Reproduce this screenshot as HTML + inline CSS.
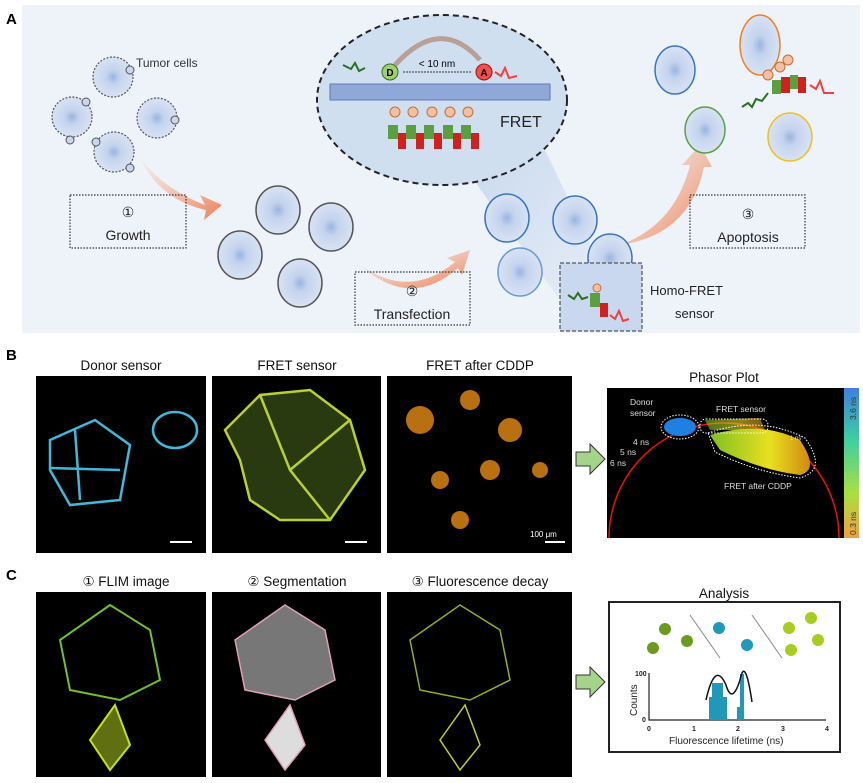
<!DOCTYPE html>
<html><head><meta charset="utf-8"><style>
body{margin:0;background:#fff;}
svg{display:block;font-family:"Liberation Sans",sans-serif;}
</style></head><body>
<svg width="863" height="783" viewBox="0 0 863 783" xmlns="http://www.w3.org/2000/svg">
<defs>
<radialGradient id="cell" cx="0.5" cy="0.5" r="0.5"><stop offset="0" stop-color="#9bb4df"/><stop offset="0.35" stop-color="#c4d3ee"/><stop offset="1" stop-color="#d8e2f3"/></radialGradient>
<linearGradient id="arr" x1="0" y1="0" x2="1" y2="1"><stop offset="0" stop-color="#f7d8c8" stop-opacity="0.3"/><stop offset="1" stop-color="#ec7a4e"/></linearGradient>
<linearGradient id="cbar" x1="0" y1="0" x2="0" y2="1"><stop offset="0" stop-color="#3f7fe0"/><stop offset="0.35" stop-color="#3ed0a0"/><stop offset="0.7" stop-color="#a8e040"/><stop offset="1" stop-color="#f0a040"/></linearGradient>
<linearGradient id="fret" x1="0" y1="0" x2="1" y2="0"><stop offset="0" stop-color="#80c020"/><stop offset="0.6" stop-color="#e8e020"/><stop offset="1" stop-color="#d08a10"/></linearGradient>
<linearGradient id="beam" x1="0" y1="0" x2="1" y2="1"><stop offset="0" stop-color="#c8d8ee"/><stop offset="1" stop-color="#d5e2f2" stop-opacity="0.4"/></linearGradient>
</defs>
<text x="6" y="24" font-size="15" font-weight="bold">A</text>
<rect x="22" y="5" width="838" height="328" fill="#eef3fa"/>
<polygon points="470,175 545,150 600,265 560,300" fill="url(#beam)"/>
<g fill="url(#cell)" stroke="#555" stroke-width="1.2" stroke-dasharray="2 1.5">
<circle cx="113" cy="77" r="20"/><circle cx="72" cy="117" r="20"/><circle cx="157" cy="118" r="20"/><circle cx="114" cy="152" r="20"/>
</g>
<g fill="#c8d6ee" stroke="#555"><circle cx="130" cy="70" r="4"/><circle cx="86" cy="102" r="4"/><circle cx="175" cy="120" r="4"/><circle cx="96" cy="142" r="4"/><circle cx="70" cy="140" r="4"/><circle cx="130" cy="168" r="4"/></g>
<text x="136" y="67" font-size="12" fill="#333">Tumor cells</text>
<path d="M140,158 Q165,190 205,205 L200,195 L222,205 L204,220 L206,210 Q160,200 140,158Z" fill="url(#arr)"/>
<path d="M360,265 Q410,300 455,262 L447,258 L470,250 L462,275 L458,268 Q410,310 360,265Z" fill="url(#arr)"/>
<path d="M620,245 Q675,225 690,165 L682,165 L700,145 L712,167 L704,167 Q690,235 620,245Z" fill="url(#arr)"/>
<g fill="url(#cell)" stroke="#555" stroke-width="1.5">
<ellipse cx="278" cy="210" rx="22" ry="24"/><ellipse cx="331" cy="227" rx="22" ry="24"/><ellipse cx="240" cy="255" rx="22" ry="24"/><ellipse cx="300" cy="283" rx="22" ry="24"/>
</g>
<g fill="url(#cell)" stroke="#3a74c0" stroke-width="1.5">
<ellipse cx="507" cy="218" rx="22" ry="24"/><ellipse cx="575" cy="220" rx="22" ry="24"/><ellipse cx="520" cy="272" rx="22" ry="24" stroke="#6a9ad0"/><ellipse cx="610" cy="258" rx="22" ry="24"/>
<ellipse cx="675" cy="70" rx="20" ry="24"/>
<ellipse cx="705" cy="130" rx="20" ry="23" stroke="#5aa040"/>
<ellipse cx="760" cy="45" rx="20" ry="30" stroke="#f08020"/>
<ellipse cx="790" cy="137" rx="22" ry="24" stroke="#f0c020"/>
</g>
<g fill="none" stroke="#333" stroke-width="1.2" stroke-dasharray="1.5 1.5">
<rect x="70" y="195" width="116" height="53"/><rect x="355" y="272" width="115" height="53"/><rect x="690" y="195" width="115" height="53"/>
</g>
<rect x="560" y="263" width="82" height="68" fill="#c9d8ee" stroke="#333" stroke-dasharray="4 2"/>
<g font-size="14" fill="#222" text-anchor="middle">
<text x="128" y="217">①</text><text x="128" y="240">Growth</text>
<text x="412" y="296">②</text><text x="412" y="319">Transfection</text>
<text x="748" y="219">③</text><text x="748" y="242">Apoptosis</text>
</g>
<text x="650" y="295" font-size="13" fill="#222">Homo-FRET</text>
<text x="675" y="318" font-size="13" fill="#222">sensor</text>
<circle cx="597" cy="288" r="4" fill="#f0c0a0" stroke="#c07040"/>
<rect x="590" y="293" width="10" height="14" fill="#5aa040"/><rect x="600" y="303" width="8" height="14" fill="#d02020"/>
<path d="M568,295 l6,4 l4,-6 l4,6 l6,-2" fill="none" stroke="#2a7020" stroke-width="2"/>
<path d="M610,315 l5,4 l4,-8 l4,10 l6,-2" fill="none" stroke="#f04040" stroke-width="2"/>
<ellipse cx="442" cy="100" rx="125" ry="85" fill="#d0dff0" stroke="#222" stroke-width="2" stroke-dasharray="6 4"/>
<rect x="330" y="84" width="220" height="16" fill="#8fa8d8" stroke="#5b78b8"/>
<path d="M395,65 Q440,15 480,60" fill="none" stroke="#b8a098" stroke-width="5"/>
<circle cx="390" cy="72" r="8" fill="#a0d070" stroke="#2a7020"/><text x="390" y="76" font-size="10" text-anchor="middle" font-weight="bold">D</text>
<circle cx="484" cy="72" r="8" fill="#f05050" stroke="#a01010"/><text x="484" y="76" font-size="10" text-anchor="middle" font-weight="bold">A</text>
<line x1="403" y1="72" x2="471" y2="72" stroke="#333" stroke-dasharray="2 1"/>
<text x="437" y="67" font-size="10" text-anchor="middle">&lt; 10 nm</text>
<path d="M343,65 l8,4 l4,-6 l4,8 l6,-3" fill="none" stroke="#2a7020" stroke-width="2"/>
<path d="M495,72 l6,4 l4,-8 l4,10 l8,-2" fill="none" stroke="#f04040" stroke-width="2"/>
<text x="500" y="127" font-size="16" fill="#222">FRET</text>
<g fill="#f0c0a0" stroke="#c07040"><circle cx="395" cy="112" r="5"/><circle cx="413" cy="112" r="5"/><circle cx="432" cy="112" r="5"/><circle cx="450" cy="112" r="5"/><circle cx="468" cy="112" r="5"/></g>
<g fill="#5aa040"><rect x="388" y="125" width="10" height="14"/><rect x="406" y="125" width="10" height="14"/><rect x="424" y="125" width="10" height="14"/><rect x="443" y="125" width="10" height="14"/><rect x="461" y="125" width="10" height="14"/></g>
<g fill="#d02020"><rect x="398" y="133" width="8" height="16"/><rect x="416" y="133" width="8" height="16"/><rect x="434" y="133" width="8" height="16"/><rect x="453" y="133" width="8" height="16"/><rect x="471" y="133" width="8" height="16"/></g>
<g fill="#f0c0a0" stroke="#c07040"><circle cx="768" cy="75" r="5"/><circle cx="780" cy="67" r="5"/><circle cx="788" cy="60" r="5"/></g>
<rect x="772" y="80" width="9" height="14" fill="#5aa040"/><rect x="781" y="77" width="9" height="16" fill="#d02020"/><rect x="790" y="75" width="8" height="14" fill="#5aa040"/><rect x="798" y="77" width="8" height="16" fill="#d02020"/>
<path d="M742,107 l6,-4 l4,4 l4,-8 l6,2 l6,-8" fill="none" stroke="#2a7020" stroke-width="2"/>
<path d="M810,85 l6,4 l4,-8 l4,12 l10,0" fill="none" stroke="#f04040" stroke-width="2"/>
<text x="6" y="360" font-size="15" font-weight="bold">B</text>
<g font-size="13.5" fill="#111" text-anchor="middle">
<text x="121" y="370">Donor sensor</text><text x="297" y="370">FRET sensor</text><text x="480" y="370">FRET after CDDP</text>
<text x="724" y="382">Phasor Plot</text>
<text x="126" y="586">① FLIM image</text><text x="297" y="586">② Segmentation</text><text x="480" y="586">③ Fluorescence decay</text>
<text x="724" y="598">Analysis</text>
</g>
<rect x="36" y="376" width="170" height="177" fill="#000"/>
<rect x="212" y="376" width="169" height="177" fill="#000"/>
<rect x="387" y="376" width="185" height="177" fill="#000"/>
<g fill="none" stroke="#40b8d8" stroke-width="2.5"><path d="M50,440 L95,420 L130,445 L120,500 L70,505 L50,470Z"/><path d="M75,430 L80,500 M50,468 L120,470"/><ellipse cx="175" cy="430" rx="22" ry="18"/></g>
<line x1="170" y1="542" x2="192" y2="542" stroke="#fff" stroke-width="2"/>
<g fill="#2a3a10" stroke="#b8d030" stroke-width="2.5"><path d="M225,430 L260,395 L310,390 L350,420 L365,470 L330,520 L280,520 L250,500 L240,460Z"/><path d="M260,395 L290,470 L330,520 M290,470 L350,420"/></g>
<line x1="345" y1="542" x2="367" y2="542" stroke="#fff" stroke-width="2"/>
<g fill="#b87010"><circle cx="420" cy="420" r="14"/><circle cx="470" cy="400" r="10"/><circle cx="510" cy="430" r="12"/><circle cx="490" cy="470" r="10"/><circle cx="440" cy="480" r="9"/><circle cx="540" cy="470" r="8"/><circle cx="460" cy="520" r="9"/></g>
<line x1="545" y1="542" x2="565" y2="542" stroke="#fff" stroke-width="2"/>
<text x="530" y="537" font-size="8" fill="#fff">100 μm</text>
<path d="M576,452 h14 v-8 l15,15 l-15,15 v-8 h-14Z" fill="#a6d38a" stroke="#333"/>
<path d="M576,675 h14 v-8 l15,15 l-15,15 v-8 h-14Z" fill="#a6d38a" stroke="#333"/>
<rect x="607" y="388" width="237" height="150" fill="#000"/>
<rect x="844" y="388" width="15" height="150" fill="url(#cbar)"/>
<path d="M609,538 A115,115 0 0 1 839,538" fill="none" stroke="#f01010" stroke-width="1.5"/>
<ellipse cx="680" cy="427" rx="16" ry="9" fill="#2080e0"/>
<ellipse cx="680" cy="427" rx="19" ry="12" fill="none" stroke="#fff" stroke-dasharray="1.5 1.5"/>
<path d="M705,420 L760,418 L765,430 L710,430Z" fill="url(#fret)" opacity="0.6"/>
<path d="M710,435 Q760,420 800,440 Q820,470 800,475 Q760,470 720,450Z" fill="url(#fret)"/>
<path d="M708,433 Q760,415 805,438 Q828,470 800,478 Q755,472 715,452Z" fill="none" stroke="#fff" stroke-dasharray="1.5 1.5"/>
<rect x="700" y="419" width="68" height="14" rx="6" fill="none" stroke="#fff" stroke-dasharray="1.5 1.5"/>
<g font-size="8.5" fill="#ddd"><text x="630" y="405">Donor</text><text x="630" y="416">sensor</text><text x="716" y="412">FRET sensor</text><text x="724" y="489">FRET after CDDP</text><text x="633" y="445">4 ns</text><text x="620" y="455">5 ns</text><text x="610" y="466">6 ns</text><text x="790" y="440" font-size="6">1 ns</text></g>
<g font-size="8.5" fill="#333" transform="rotate(-90)"><text x="-420" y="856">3.6 ns</text><text x="-535" y="856">0.3 ns</text></g>
<text x="6" y="580" font-size="15" font-weight="bold">C</text>
<rect x="36" y="592" width="170" height="185" fill="#000"/>
<rect x="212" y="592" width="169" height="185" fill="#000"/>
<rect x="387" y="592" width="185" height="185" fill="#000"/>
<g fill="none" stroke-width="2"><path d="M60,640 L110,605 L150,630 L160,680 L120,700 L70,690Z" stroke="#70c030"/><path d="M90,740 L115,705 L130,745 L110,770Z" stroke="#c0e020" fill="#607010"/></g>
<g fill="#777" stroke="#e0a0b0" stroke-width="1.5"><path d="M235,640 L285,605 L325,630 L335,680 L295,700 L245,690Z"/><path d="M265,740 L290,705 L305,745 L285,770Z" fill="#ddd"/></g>
<g fill="none" stroke-width="1.5"><path d="M410,640 L460,605 L500,630 L510,680 L470,700 L420,690Z" stroke="#90b020"/><path d="M440,740 L465,705 L480,745 L460,770Z" stroke="#c0d020"/></g>
<rect x="609" y="602" width="231" height="150" fill="#fff" stroke="#222" stroke-width="2"/>
<g fill="#6a9a20"><circle cx="665" cy="629" r="6"/><circle cx="653" cy="648" r="6"/><circle cx="687" cy="641" r="6"/></g>
<g fill="#2098b8"><circle cx="719" cy="628" r="6"/><circle cx="747" cy="645" r="6"/></g>
<g fill="#a8cc20"><circle cx="789" cy="628" r="6"/><circle cx="811" cy="618" r="6"/><circle cx="791" cy="650" r="6"/><circle cx="818" cy="640" r="6"/></g>
<line x1="690" y1="615" x2="720" y2="658" stroke="#888"/><line x1="752" y1="615" x2="782" y2="658" stroke="#888"/>
<path d="M649,673 V720 H826" fill="none" stroke="#222" stroke-width="1.2"/>
<g fill="#2098b8"><rect x="709" y="697" width="3" height="23"/><rect x="712" y="683" width="6" height="37"/><rect x="718" y="683" width="5" height="37"/><rect x="723" y="697" width="4" height="23"/><rect x="737" y="707" width="3" height="13"/><rect x="740" y="674" width="4" height="46"/></g>
<path d="M706,700 Q715,660 726,685 Q732,705 740,680 Q745,655 752,702" fill="none" stroke="#111" stroke-width="1.5"/>
<g font-size="7" fill="#222" font-weight="bold"><text x="635" y="676">100</text><text x="642" y="722">0</text><text x="647" y="731">0</text><text x="692" y="731">1</text><text x="736" y="731">2</text><text x="781" y="731">3</text><text x="825" y="731">4</text></g>
<text x="669" y="744" font-size="10" fill="#222">Fluorescence lifetime (ns)</text>
<text transform="translate(637,716) rotate(-90)" font-size="10" fill="#222">Counts</text>
</svg>
</body></html>
